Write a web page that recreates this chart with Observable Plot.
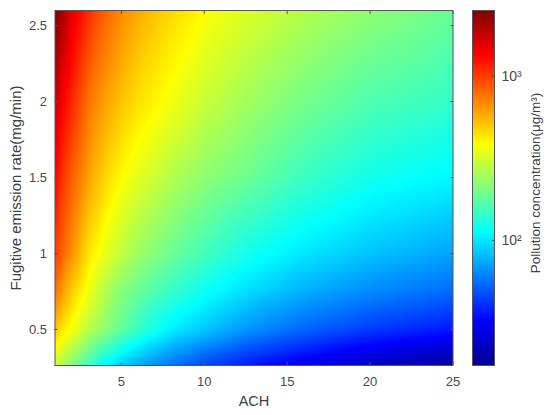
<!DOCTYPE html>
<html>
<head>
<meta charset="utf-8">
<script src="https://cdn.jsdelivr.net/npm/d3@7"></script>
<script src="https://cdn.jsdelivr.net/npm/@observablehq/plot@0.6"></script>
<style>
html,body{margin:0;padding:0;background:#fff}
#chart{position:relative;width:550px;height:415px;overflow:hidden}
#chart svg{position:absolute;left:0;top:0}
</style>
</head>
<body>
<div id="chart"></div>
<script>
// Values: concentration (µg/m³) at each ACH / emission rate
const ach = [1, 1.5, 2, 3, 4, 5, 6, 8, 10, 13, 16, 20, 25];
const rates = [0.263, 0.5, 0.75, 1, 1.5, 2, 2.6];
const conc026 = [300, 255, 215, 155, 110, 88, 74, 56, 45, 35, 29, 23, 18.7];
const conc050 = [520, 430, 375, 280, 225, 180, 145, 105, 85, 65, 53, 43, 36];
const conc075 = [780, 620, 500, 365, 270, 215, 185, 145, 118, 92, 76, 63, 54];
const conc100 = [1000, 820, 670, 445, 350, 285, 240, 190, 155, 120, 100, 84, 72];
const conc150 = [1350, 1030, 860, 620, 480, 395, 340, 270, 225, 185, 150, 122, 108];
const conc200 = [1750, 1350, 1130, 780, 620, 520, 450, 370, 300, 240, 200, 165, 144];
const conc260 = [2520, 2000, 1550, 1100, 840, 690, 590, 470, 390, 320, 270, 225, 187];
const concRows = [conc026, conc050, conc075, conc100, conc150, conc200, conc260];

const xTicks = [5, 10, 15, 20, 25];
const yTicks = [0.5, 1, 1.5, 2, 2.5];
const barTicks = [2, 3];
const barLabels = {2: "10²", 3: "10³"};
const xDomain = [1, 25];
const yDomain = [0.263, 2.6];
const logDomain = [Math.log10(17.3), Math.log10(2520)];

const jetPos = [0, 0.125, 0.375, 0.625, 0.875, 1];
const jetColors = ["#00008f", "#0000ff", "#00ffff", "#ffff00", "#ff0000", "#800000"];

const table = rates.flatMap((r, i) => ach.map((a, j) => ({ach: a, rate: r, logC: Math.log10(concRows[i][j])})));

const colorOpts = {
  type: "linear",
  domain: jetPos.map(t => logDomain[0] + t * (logDomain[1] - logDomain[0])),
  range: jetColors,
  interpolate: "rgb",
  clamp: true
};
const ink = "#4a4a4a";
const font = "Liberation Sans, Arial, sans-serif";

const main = Plot.plot({
  width: 550, height: 415,
  marginLeft: 54.5, marginRight: 97.5, marginTop: 10, marginBottom: 50,
  style: {fontFamily: font, background: "transparent", color: ink, overflow: "visible"},
  x: {domain: xDomain},
  y: {domain: yDomain},
  color: colorOpts,
  marks: [
    Plot.raster(table, {x: "ach", y: "rate", fill: "logC", interpolate: "barycentric",
      x1: xDomain[0], x2: xDomain[1], y1: yDomain[0], y2: yDomain[1]}),
    Plot.frame({stroke: "#555", strokeWidth: 1, strokeOpacity: 1}),
    Plot.axisX({anchor: "bottom", ticks: xTicks, tickSize: -3, tickPadding: 14, fontSize: 13, label: null, stroke: "#555"}),
    Plot.axisX({anchor: "top", ticks: xTicks, tickSize: -3, text: null, label: null, stroke: "#555"}),
    Plot.axisY({anchor: "left", ticks: yTicks, tickSize: -3, tickPadding: 11, fontSize: 13, tickFormat: d => String(d), label: null, stroke: "#555"}),
    Plot.axisY({anchor: "right", ticks: yTicks, tickSize: -3, text: null, label: null, stroke: "#555"}),
    Plot.text(["ACH"], {frameAnchor: "bottom", dy: 40, fontSize: 14.5, fill: "#404040"}),
    Plot.text(["Fugitive emission rate(mg/min)"], {frameAnchor: "left", dx: -39, rotate: -90, fontSize: 15, fill: "#404040", textAnchor: "middle"})
  ]
});

const bar = Plot.plot({
  width: 550, height: 415,
  marginLeft: 472, marginRight: 56, marginTop: 10, marginBottom: 50,
  style: {fontFamily: font, background: "transparent", color: ink, overflow: "visible"},
  x: {domain: [0, 1], axis: null},
  y: {domain: logDomain},
  color: colorOpts,
  marks: [
    Plot.raster({fill: (x, y) => y, width: 1, height: 355, x1: 0, x2: 1, y1: logDomain[0], y2: logDomain[1], pixelSize: 1}),
    Plot.frame({stroke: "#555", strokeWidth: 1, strokeOpacity: 1}),
    Plot.axisY({anchor: "right", ticks: barTicks, tickSize: -3, tickPadding: 10, fontSize: 14, tickFormat: d => barLabels[d], label: null, stroke: "#555"}),
    Plot.text(["Pollution concentration(μg/m³)"], {frameAnchor: "right", dx: 41, dy: -5, rotate: -90, fontSize: 13.5, fill: "#404040", textAnchor: "middle"})
  ]
});

const host = document.getElementById("chart");
host.appendChild(main);
host.appendChild(bar);
</script>
</body>
</html>
